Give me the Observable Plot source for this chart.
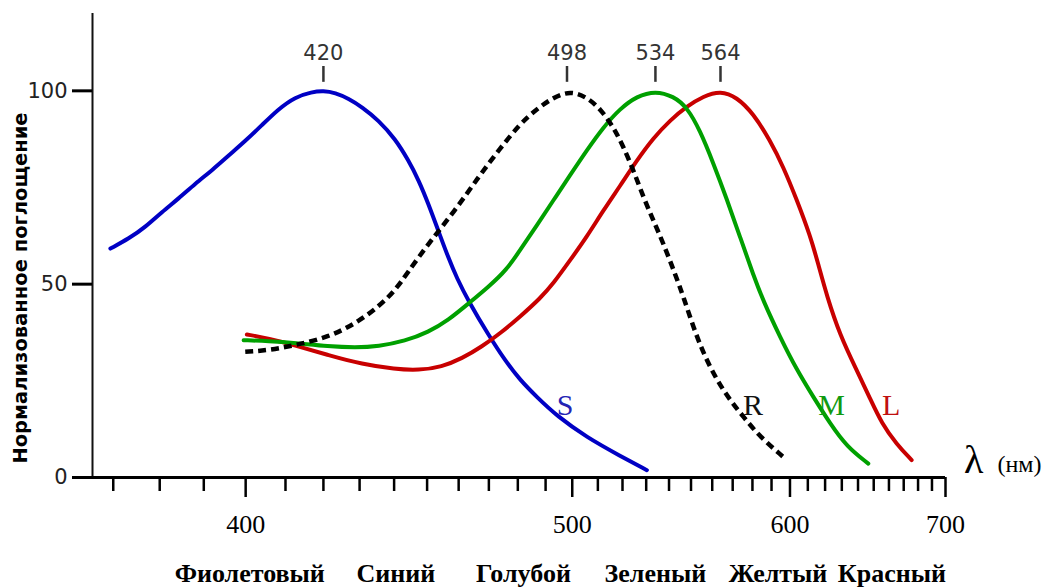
<!DOCTYPE html>
<html>
<head>
<meta charset="utf-8">
<script src="https://cdn.jsdelivr.net/npm/d3@7"></script>
<script src="https://cdn.jsdelivr.net/npm/@observablehq/plot@0.6"></script>
<style>
  body { margin: 0; background: #fff; }
</style>
</head>
<body>
<div id="chart"></div>
<script>
// ---- Data (wavelength in nm, normalized absorbance in %) ----
const sWave = [369.4, 373.3, 376.9, 380.5, 384.2, 388.0, 391.9, 395.9, 399.9, 404.0, 408.2, 412.5, 416.9, 420, 423.2, 426.9, 430.7, 435.4, 440.3, 444.3, 447.4, 450.4, 453.6, 456.7, 459.4, 463.2, 469.9, 475.6, 480.8, 486.8, 494.2, 505.6, 519.0, 530.3];
const sAbs  = [59.2, 61.8, 64.8, 68.7, 72.1, 76.0, 79.4, 83.3, 87.0, 91.1, 95.3, 98.4, 99.7, 100, 99.5, 98.0, 95.8, 92.4, 87.6, 82.0, 76.9, 70.8, 63.6, 56.8, 51.6, 45.6, 36.8, 30.2, 25.2, 20.8, 15.9, 10.4, 5.6, 1.9];

const rWave = [399.9, 405.7, 412.5, 421.4, 428.8, 435.4, 440.3, 443.8, 450.4, 458.9, 466.5, 473.3, 480.8, 486.8, 492.9, 499.2, 505.6, 510.9, 516.3, 520.4, 524.6, 528.8, 533.1, 537.5, 542.7, 546.5, 551.1, 555.8, 562.2, 568.7, 575.4, 583.9, 596.4];
const rAbs  = [32.5, 32.9, 34.2, 36.3, 39.8, 44.1, 48.4, 52.7, 60.5, 69.1, 77.7, 84.6, 91.5, 95.3, 98.3, 100, 98.4, 95.4, 90.6, 85.5, 79.4, 72.5, 66.5, 60.5, 52.7, 46.7, 38.9, 32.1, 25.2, 20.0, 15.7, 10.5, 5.3];

const mWave = [399.5, 405.7, 412.5, 421.4, 428.8, 435.4, 443.3, 450.4, 456.7, 463.2, 469.9, 476.2, 480.8, 486.8, 492.9, 499.2, 505.6, 512.2, 519.0, 526.0, 534, 542.0, 548.1, 554.2, 560.6, 567.1, 573.7, 580.5, 585.7, 594.6, 603.7, 613.2, 622.9, 633.0, 646.5];
const mAbs  = [35.5, 35.3, 34.8, 33.9, 33.6, 33.9, 35.3, 37.6, 40.7, 45.0, 49.3, 53.8, 58.8, 65.2, 71.7, 78.2, 84.6, 90.6, 95.4, 98.6, 100, 98.6, 95.8, 89.8, 81.2, 72.0, 62.2, 52.3, 45.6, 36.3, 27.9, 20.8, 14.0, 8.0, 3.6];

const lWave = [400.3, 405.7, 412.5, 421.4, 430.7, 440.3, 447.4, 454.6, 461.1, 467.6, 474.4, 480.8, 488.0, 492.9, 499.2, 505.6, 512.2, 519.0, 526.0, 533.1, 540.5, 548.1, 555.8, 564, 572.0, 580.5, 589.2, 596.4, 603.7, 611.3, 616.0, 621.0, 628.9, 639.2, 647.6, 655.2, 665.2, 675.5];
const lAbs  = [37.0, 35.9, 34.2, 31.6, 29.3, 28.0, 27.7, 28.6, 30.8, 33.8, 37.6, 41.6, 46.3, 50.2, 56.2, 62.2, 69.1, 75.4, 82.0, 87.8, 92.4, 96.0, 98.6, 100, 98.4, 94.1, 87.2, 80.3, 71.9, 62.6, 55.2, 47.0, 36.8, 27.7, 20.5, 14.0, 8.6, 4.5];

const peakWaves = [420, 498, 534, 564];
const yTicks = [0, 50, 100];
const majorTicks = [400, 500, 600, 700];
const minorTicks = [370, 380, 390, 410, 420, 430, 440, 450, 460, 470, 480, 490, 510, 520, 530, 540, 550, 560, 570, 580, 590, 610, 620, 630, 640, 650, 660, 670, 680, 690];
const axisStartNm = 365.7;
const axisEndNm = 700;

const curveNames = ["S", "R", "M", "L"];
const curveLabelWave = [497.3, 580.3, 623.8, 661.4];
const curveLabelAbs = [16.1, 16.1, 16.1, 16.1];

const bandNames = ["Фиолетовый", "Синий", "Голубой", "Зеленый", "Желтый", "Красный"];
const bandCenters = [401, 440.5, 482, 534, 593.5, 662];

// ---- Helpers ----
const nu = (nm) => 1e7 / nm;          // x axis is linear in wavenumber (1/λ)
const rows = (w, v) => w.map((d, i) => ({wave: d, value: v[i]}));

const BLUE = "#0000c4", GREEN = "#00a000", RED = "#c80000";
const labelColors = ["#2424b4", "#111", "#109a10", "#c01010"];

const curveLabels = curveNames.map((n, i) => ({name: n, wave: curveLabelWave[i], value: curveLabelAbs[i], color: labelColors[i]}));
const bands = bandNames.map((n, i) => ({name: n, wave: bandCenters[i]}));

const serif = "Liberation Serif, Times New Roman, serif";
const sans = "DejaVu Sans, Verdana, sans-serif";

const chart = Plot.plot({
  width: 1056,
  height: 588,
  marginTop: 13,
  marginBottom: 111,
  marginLeft: 92,
  marginRight: 111,
  style: {fontFamily: sans, color: "#000", background: "#fff", overflow: "visible"},
  x: {domain: [nu(axisStartNm), nu(axisEndNm)]},
  y: {domain: [0, 120]},
  marks: [
    // curves
    Plot.line(rows(sWave, sAbs), {x: d => nu(d.wave), y: "value", stroke: BLUE, strokeWidth: 4, curve: "basis"}),
    Plot.line(rows(lWave, lAbs), {x: d => nu(d.wave), y: "value", stroke: RED, strokeWidth: 4, curve: "basis"}),
    Plot.line(rows(mWave, mAbs), {x: d => nu(d.wave), y: "value", stroke: GREEN, strokeWidth: 4, curve: "basis"}),
    Plot.line(rows(rWave, rAbs), {x: d => nu(d.wave), y: "value", stroke: "#000", strokeWidth: 4.5, strokeDasharray: "8,5", strokeLinecap: "butt", curve: "basis"}),

    // curve letters
    Plot.text(curveLabels, {x: d => nu(d.wave), y: "value", text: "name", fill: "color", fontSize: 30, fontFamily: serif, lineAnchor: "bottom"}),

    // peak markers
    Plot.ruleX(peakWaves, {x: d => nu(d), y1: 102.2, y2: 106.3, stroke: "#333", strokeWidth: 2.5}),
    Plot.text(peakWaves, {x: d => nu(d), y: 107.9, text: d => String(d), fill: "#333", fontSize: 21, lineAnchor: "bottom"}),

    // axes lines
    Plot.ruleX([nu(axisStartNm)], {stroke: "#111", strokeWidth: 2}),
    Plot.ruleY([0], {stroke: "#000", strokeWidth: 3}),

    // y axis ticks & labels
    Plot.axisY({ticks: yTicks, tickSize: 20, tickPadding: 5, strokeWidth: 3, fontSize: 21, fill: "#222", label: null}),

    // x axis ticks
    Plot.axisX({ticks: minorTicks.map(nu), tickSize: 14, strokeWidth: 2.5, tickFormat: () => "", label: null}),
    Plot.axisX({ticks: majorTicks.map(nu), tickSize: 20, tickPadding: 17, strokeWidth: 2.5, tickFormat: d => String(Math.round(1e7 / d)), fontSize: 26, fontFamily: serif, label: null}),

    // axis title (λ)
    Plot.text(["λ"], {frameAnchor: "bottom-right", dx: 38, dy: -5, lineAnchor: "bottom", fontSize: 40, fontFamily: serif}),
    Plot.text(["(нм)"], {frameAnchor: "bottom-right", dx: 52, dy: -6, lineAnchor: "bottom", textAnchor: "start", fontSize: 24, fontFamily: serif}),

    // y title
    Plot.text(["Нормализованное поглощение"], {frameAnchor: "left", rotate: -90, dx: -72, dy: 42.5, textAnchor: "middle", lineAnchor: "middle", fontWeight: "bold", fontSize: 19.5, fontFamily: sans}),

    // colour band names
    Plot.text(bands, {x: d => nu(d.wave), frameAnchor: "bottom", dy: 104, lineAnchor: "bottom", text: "name", fontWeight: "bold", fontSize: 26, fontFamily: serif})
  ]
});

document.getElementById("chart").appendChild(chart);
</script>
</body>
</html>
